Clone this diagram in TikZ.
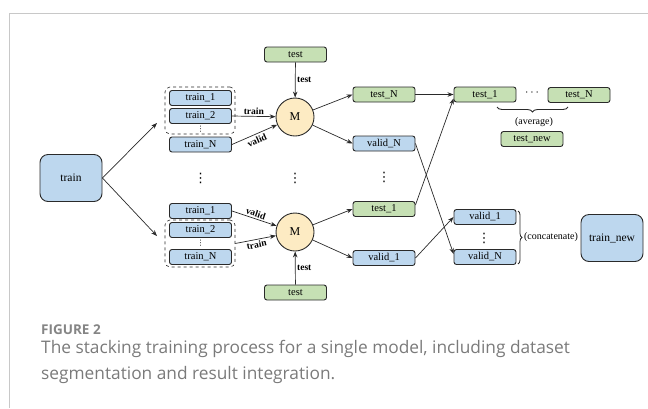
\documentclass[tikz,border=0pt]{standalone}
\usepackage{fontspec}
\setmainfont{Liberation Serif}
\newfontfamily\capfont{Open Sans}
\newfontfamily\dejavu{DejaVu Sans}
\usetikzlibrary{arrows.meta,decorations.pathreplacing}
\definecolor{bfill}{HTML}{BDD7EE}
\definecolor{gfill}{HTML}{C6E0B4}
\definecolor{yfill}{HTML}{FDEBC3}
\definecolor{edge}{HTML}{2A2A2A}
\definecolor{frame}{HTML}{C8C8C8}
\definecolor{capgray}{HTML}{7A7A7A}
\definecolor{figgray}{HTML}{858585}
\tikzset{
  box/.style={draw=edge, line width=0.9pt, rounded corners=2.5pt, minimum width=62pt, minimum height=15pt, inner sep=0pt, font=\fontsize{10.5}{12}\selectfont},
  bbox/.style={box, fill=bfill},
  gbox/.style={box, fill=gfill},
  bigbox/.style={draw=edge, line width=0.9pt, fill=bfill, rounded corners=8pt, minimum width=62pt, minimum height=47pt, inner sep=0pt, font=\fontsize{11.5}{13}\selectfont},
  dashbox/.style={draw=edge, dashed, line width=0.6pt, rounded corners=5pt, minimum width=70pt, minimum height=47pt, inner sep=0pt},
  mcirc/.style={circle, draw=edge, line width=0.9pt, fill=yfill, minimum size=38pt, inner sep=0pt, font=\fontsize{12}{14}\selectfont},
  arr/.style={-{Stealth[length=6pt,width=4.5pt]}, line width=0.7pt, draw=edge},
  lab/.style={font=\fontsize{9.5}{11}\selectfont\bfseries, inner sep=1.5pt},
  vd/.style={font=\dejavu\fontsize{13}{14}\selectfont, inner sep=0pt},
  svd/.style={font=\dejavu\fontsize{7.5}{8}\selectfont, inner sep=0pt},
  note/.style={font=\fontsize{10}{12}\selectfont, inner sep=0pt},
}
\begin{document}
\begin{tikzpicture}[x=1pt,y=-1pt]
\useasboundingbox (0,0) rectangle (648,408);
\draw[frame, line width=0.8pt] (648,13.5) -- (9,13.5) -- (9,408);

% train
\node[bigbox] (train) at (71,178) {train};
\coordinate (ua) at (157,123);
\coordinate (la) at (157,236);
\draw[arr] (train.east) -- (ua);
\draw[arr] (train.east) -- (la);

% upper group
\node[dashbox] (ug) at (200,110.5) {};
\node[bbox] (u1) at (200.5,98) {train\_1};
\node[bbox] (u2) at (200.5,116) {train\_2};
\node[svd] (ud) at (200.5,129.5) {⋮};
\node[bbox] (uN) at (200.5,144.5) {train\_N};

% lower group
\node[dashbox] (lg) at (200,243.5) {};
\node[bbox] (l1) at (200.5,211) {train\_1};
\node[bbox] (l2) at (200.5,230) {train\_2};
\node[svd] (ld) at (200.5,243) {⋮};
\node[bbox] (lN) at (200.5,257) {train\_N};

% models
\node[mcirc] (Mu) at (295,117) {M};
\node[mcirc] (Ml) at (295,232) {M};
\node[gbox] (tu) at (295.5,54.5) {test};
\node[gbox] (tl) at (295.5,292.5) {test};

\draw[arr] (tu) -- node[lab, right] {test} (Mu);
\draw[arr] (tl) -- node[lab, right] {test} (Ml);
\draw[arr] (u2.east) -- node[lab, above, sloped] {train} (Mu);
\draw[arr] (uN.east) -- node[lab, below, sloped, pos=0.5, inner sep=2.5pt] {valid} (Mu);
\draw[arr] (l1.east) -- node[lab, above, sloped] {valid} (Ml);
\draw[arr] (lg.east) -- node[lab, below, sloped] {train} (Ml);

% middle dots
\node[vd] (d1) at (200.5,178) {⋮};
\node[vd] (d2) at (295,178) {⋮};
\node[vd] (d3) at (384,177) {⋮};

% column 3
\node[gbox] (tN) at (384,94.5) {test\_N};
\node[bbox] (vN) at (384,143.5) {valid\_N};
\node[gbox] (t1) at (384,209) {test\_1};
\node[bbox] (v1) at (384,258) {valid\_1};

\draw[arr] (Mu) -- (tN.west);
\draw[arr] (Mu) -- (vN.west);
\draw[arr] (Ml) -- (t1.west);
\draw[arr] (Ml) -- (v1.west);

% column 4
\node[gbox] (ta) at (485,94.5) {test\_1};
\node[note, font=\fontsize{13}{14}\selectfont] (hd) at (532,93) {$\cdots$};
\node[gbox] (tb) at (579,95) {test\_N};
\node[note] (avg) at (534,122) {(average)};
\node[gbox] (tnew) at (532,139) {test\_new};
\draw[line width=0.9pt, draw=edge, decorate, decoration={brace, mirror, amplitude=5pt}] (497,107) -- (568,107);

\node[bbox] (va) at (485,217) {valid\_1};
\node[vd] (d4) at (484,238) {⋮};
\node[bbox] (vb) at (485,257) {valid\_N};
\draw[line width=0.8pt, draw=edge, decorate, decoration={brace, amplitude=4pt}] (518,211) -- (518,264);
\node[note] (cat) at (551,237) {(concatenate)};
\node[bigbox] (tnw) at (612,238) {train\_new};

\draw[arr] (tN.east) -- (ta.west);
\draw[arr] (vN.east) -- ([yshift=3pt]vb.west);
\draw[arr] ([yshift=4pt]t1.east) -- ([yshift=-4pt]ta.west);
\draw[arr] (v1.east) -- (va.west);

% caption
\node[anchor=base west, inner sep=0pt, font=\capfont\bfseries\fontsize{13.5}{15}\selectfont, text=figgray] (fig) at (41,334) {FIGURE 2};
\node[anchor=base west, inner sep=0pt, font=\capfont\fontsize{17.3}{26}\selectfont, text=capgray] (cap1) at (41,353) {The stacking training process for a single model, including dataset};
\node[anchor=base west, inner sep=0pt, font=\capfont\fontsize{17.3}{26}\selectfont, text=capgray] (cap2) at (41,379) {segmentation and result integration.};
\end{tikzpicture}
\end{document}
